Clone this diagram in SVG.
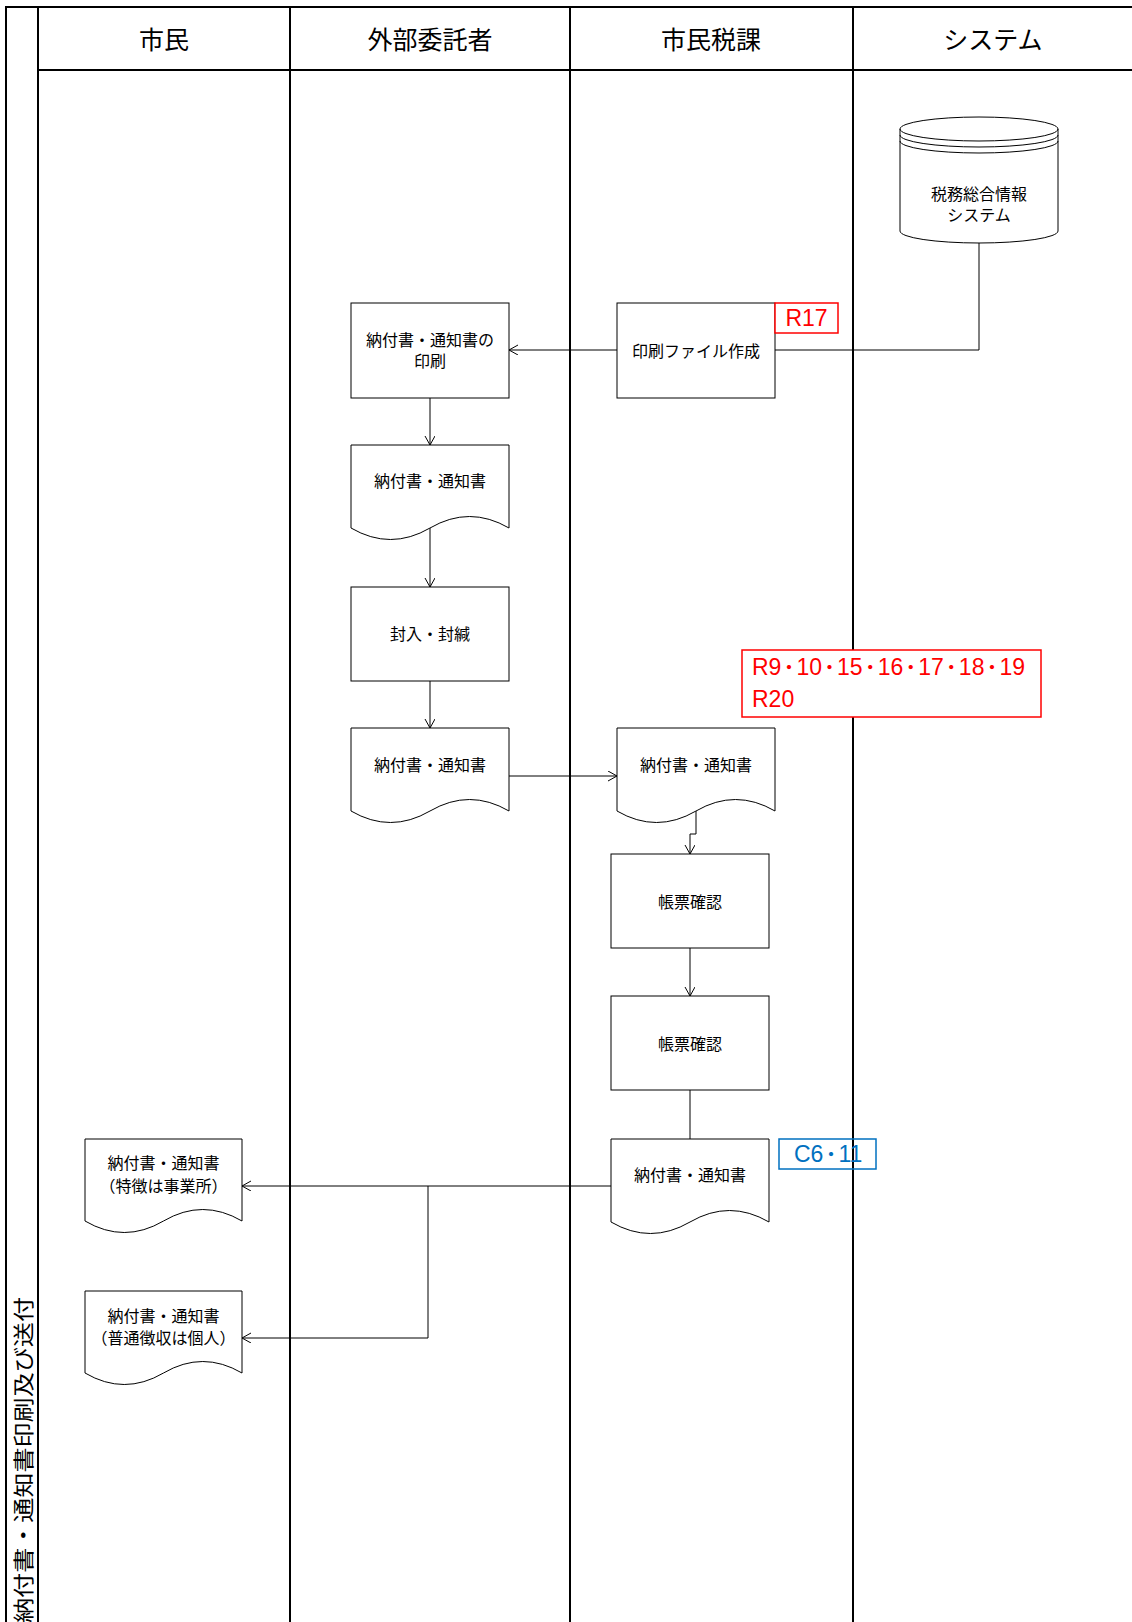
<svg xmlns="http://www.w3.org/2000/svg" width="1132" height="1622" viewBox="0 0 1132 1622">
  <defs>
    <marker id="arrow" markerUnits="userSpaceOnUse" markerWidth="12" markerHeight="12" refX="9" refY="5" orient="auto">
      <path d="M0,0 L9,5 L0,10" fill="none" stroke="#000" stroke-width="1"/>
    </marker>
    <style>
      .lane { stroke: #000; stroke-width: 2; fill: none; }
      .shape { fill: #fff; stroke: #000; stroke-width: 1; }
      .conn { fill: none; stroke: #000; stroke-width: 1; }
      .head { font-family: "Noto Sans CJK JP", "Noto Sans", sans-serif; font-size: 25px; fill: #000; text-anchor: middle; dominant-baseline: central; }
      .label { font-family: "Noto Sans CJK JP", "Noto Sans", sans-serif; font-size: 16px; fill: #000; text-anchor: middle; dominant-baseline: central; }
      .tag { font-family: "Liberation Sans", "Noto Sans CJK JP", sans-serif; font-size: 23px; }
      .dot { font-family: "Noto Sans CJK JP", sans-serif; font-size: 15px; font-weight: 900; }
      .red { fill: #ff0000; }
      .blue { fill: #0070c0; }
    </style>
  </defs>

  <rect x="0" y="0" width="1132" height="1622" fill="#fff"/>

  <!-- swimlane frame -->
  <g id="lanes">
    <line class="lane" x1="6" y1="7" x2="1132" y2="7"/>
    <line class="lane" x1="6" y1="6" x2="6" y2="1622"/>
    <line class="lane" x1="38" y1="7" x2="38" y2="1622"/>
    <line class="lane" x1="38" y1="70" x2="1132" y2="70"/>
    <line class="lane" x1="290" y1="7" x2="290" y2="1622"/>
    <line class="lane" x1="570" y1="7" x2="570" y2="1622"/>
    <line class="lane" x1="853" y1="7" x2="853" y2="1622"/>
    <text class="head" x="164" y="38">市民</text>
    <text class="head" x="430" y="38">外部委託者</text>
    <text class="head" x="711" y="38">市民税課</text>
    <text class="head" x="993" y="38">システム</text>
    <text transform="translate(22,1623) rotate(-90)" x="0" y="0" font-family="Noto Sans CJK JP, sans-serif" font-size="21" dominant-baseline="central" textLength="326" lengthAdjust="spacingAndGlyphs">納付書・通知書印刷及び送付</text>
  </g>

  <!-- connectors -->
  <g id="connectors">
    <path class="conn" d="M979,243 V350 H775"/>
    <path class="conn" d="M617,350 H509" marker-end="url(#arrow)"/>
    <path class="conn" d="M430,398 V445" marker-end="url(#arrow)"/>
    <path class="conn" d="M430,528 V587" marker-end="url(#arrow)"/>
    <path class="conn" d="M430,681 V728" marker-end="url(#arrow)"/>
    <path class="conn" d="M509,776 H617" marker-end="url(#arrow)"/>
    <path class="conn" d="M696,811 V834 H690 V854" marker-end="url(#arrow)"/>
    <path class="conn" d="M690,948 V996" marker-end="url(#arrow)"/>
    <path class="conn" d="M690,1090 V1139"/>
    <path class="conn" d="M611,1186 H242" marker-end="url(#arrow)"/>
    <path class="conn" d="M428,1186 V1338 H242" marker-end="url(#arrow)"/>
  </g>

  <!-- system database -->
  <g id="db-system">
    <path class="shape" d="M900,129 A79,12 0 0 1 1058,129 V231 A79,12 0 0 1 900,231 Z"/>
    <path class="conn" d="M900,129 A79,12 0 0 0 1058,129"/>
    <path class="conn" d="M900,135 A79,12 0 0 0 1058,135"/>
    <path class="conn" d="M900,141 A79,12 0 0 0 1058,141"/>
    <text class="label" x="979" y="193">税務総合情報</text>
    <text class="label" x="979" y="214">システム</text>
  </g>

  <g id="make-print-file">
    <rect class="shape" x="617" y="303" width="158" height="95"/>
    <text class="label" x="696" y="350">印刷ファイル作成</text>
  </g>

  <g id="tag-r17">
    <rect x="775" y="303" width="63" height="30" fill="#fff" stroke="#ff0000" stroke-width="1.5"/>
    <text class="tag red" x="806.5" y="326" text-anchor="middle">R17</text>
  </g>

  <g id="print">
    <rect class="shape" x="351" y="303" width="158" height="95"/>
    <text class="label" x="430" y="339">納付書・通知書の</text>
    <text class="label" x="430" y="360">印刷</text>
  </g>

  <g id="doc-printed">
    <path class="shape" d="M351,445 H509 V528 Q469.5,505 430,528 T351,528 Z"/>
    <text class="label" x="430" y="480">納付書・通知書</text>
  </g>

  <g id="enclose-seal">
    <rect class="shape" x="351" y="587" width="158" height="94"/>
    <text class="label" x="430" y="633">封入・封緘</text>
  </g>

  <g id="doc-sealed">
    <path class="shape" d="M351,728 H509 V811 Q469.5,788 430,811 T351,811 Z"/>
    <text class="label" x="430" y="764">納付書・通知書</text>
  </g>

  <g id="tag-r9">
    <rect x="742" y="650" width="299" height="67" fill="#fff" stroke="#ff0000" stroke-width="1.5"/>
    <text class="tag red" x="752" y="675">R9<tspan class="dot" dy="-2.5">・</tspan><tspan dy="2.5">10</tspan><tspan class="dot" dy="-2.5">・</tspan><tspan dy="2.5">15</tspan><tspan class="dot" dy="-2.5">・</tspan><tspan dy="2.5">16</tspan><tspan class="dot" dy="-2.5">・</tspan><tspan dy="2.5">17</tspan><tspan class="dot" dy="-2.5">・</tspan><tspan dy="2.5">18</tspan><tspan class="dot" dy="-2.5">・</tspan><tspan dy="2.5">19</tspan></text>
    <text class="tag red" x="752" y="707">R20</text>
  </g>

  <g id="doc-received">
    <path class="shape" d="M617,728 H775 V811 Q735.5,788 696,811 T617,811 Z"/>
    <text class="label" x="696" y="764">納付書・通知書</text>
  </g>

  <g id="check-1">
    <rect class="shape" x="611" y="854" width="158" height="94"/>
    <text class="label" x="690" y="901">帳票確認</text>
  </g>

  <g id="check-2">
    <rect class="shape" x="611" y="996" width="158" height="94"/>
    <text class="label" x="690" y="1043">帳票確認</text>
  </g>

  <g id="doc-send">
    <path class="shape" d="M611,1139 H769 V1222 Q729.5,1199 690,1222 T611,1222 Z"/>
    <text class="label" x="690" y="1174">納付書・通知書</text>
  </g>

  <g id="tag-c6">
    <rect x="779" y="1139" width="97" height="30" fill="none" stroke="#0070c0" stroke-width="1.5"/>
    <text class="tag blue" x="794" y="1162">C6<tspan class="dot" dy="-2.5">・</tspan><tspan dy="2.5">11</tspan></text>
  </g>

  <g id="doc-office">
    <path class="shape" d="M85,1139 H242 V1221 Q202.75,1198 163.5,1221 T85,1221 Z"/>
    <text class="label" x="163.5" y="1162">納付書・通知書</text>
    <text class="label" x="163.5" y="1185">（特徴は事業所）</text>
  </g>

  <g id="doc-personal">
    <path class="shape" d="M85,1291 H242 V1373 Q202.75,1350 163.5,1373 T85,1373 Z"/>
    <text class="label" x="163.5" y="1315">納付書・通知書</text>
    <text class="label" x="163.5" y="1337">（普通徴収は個人）</text>
  </g>
</svg>
